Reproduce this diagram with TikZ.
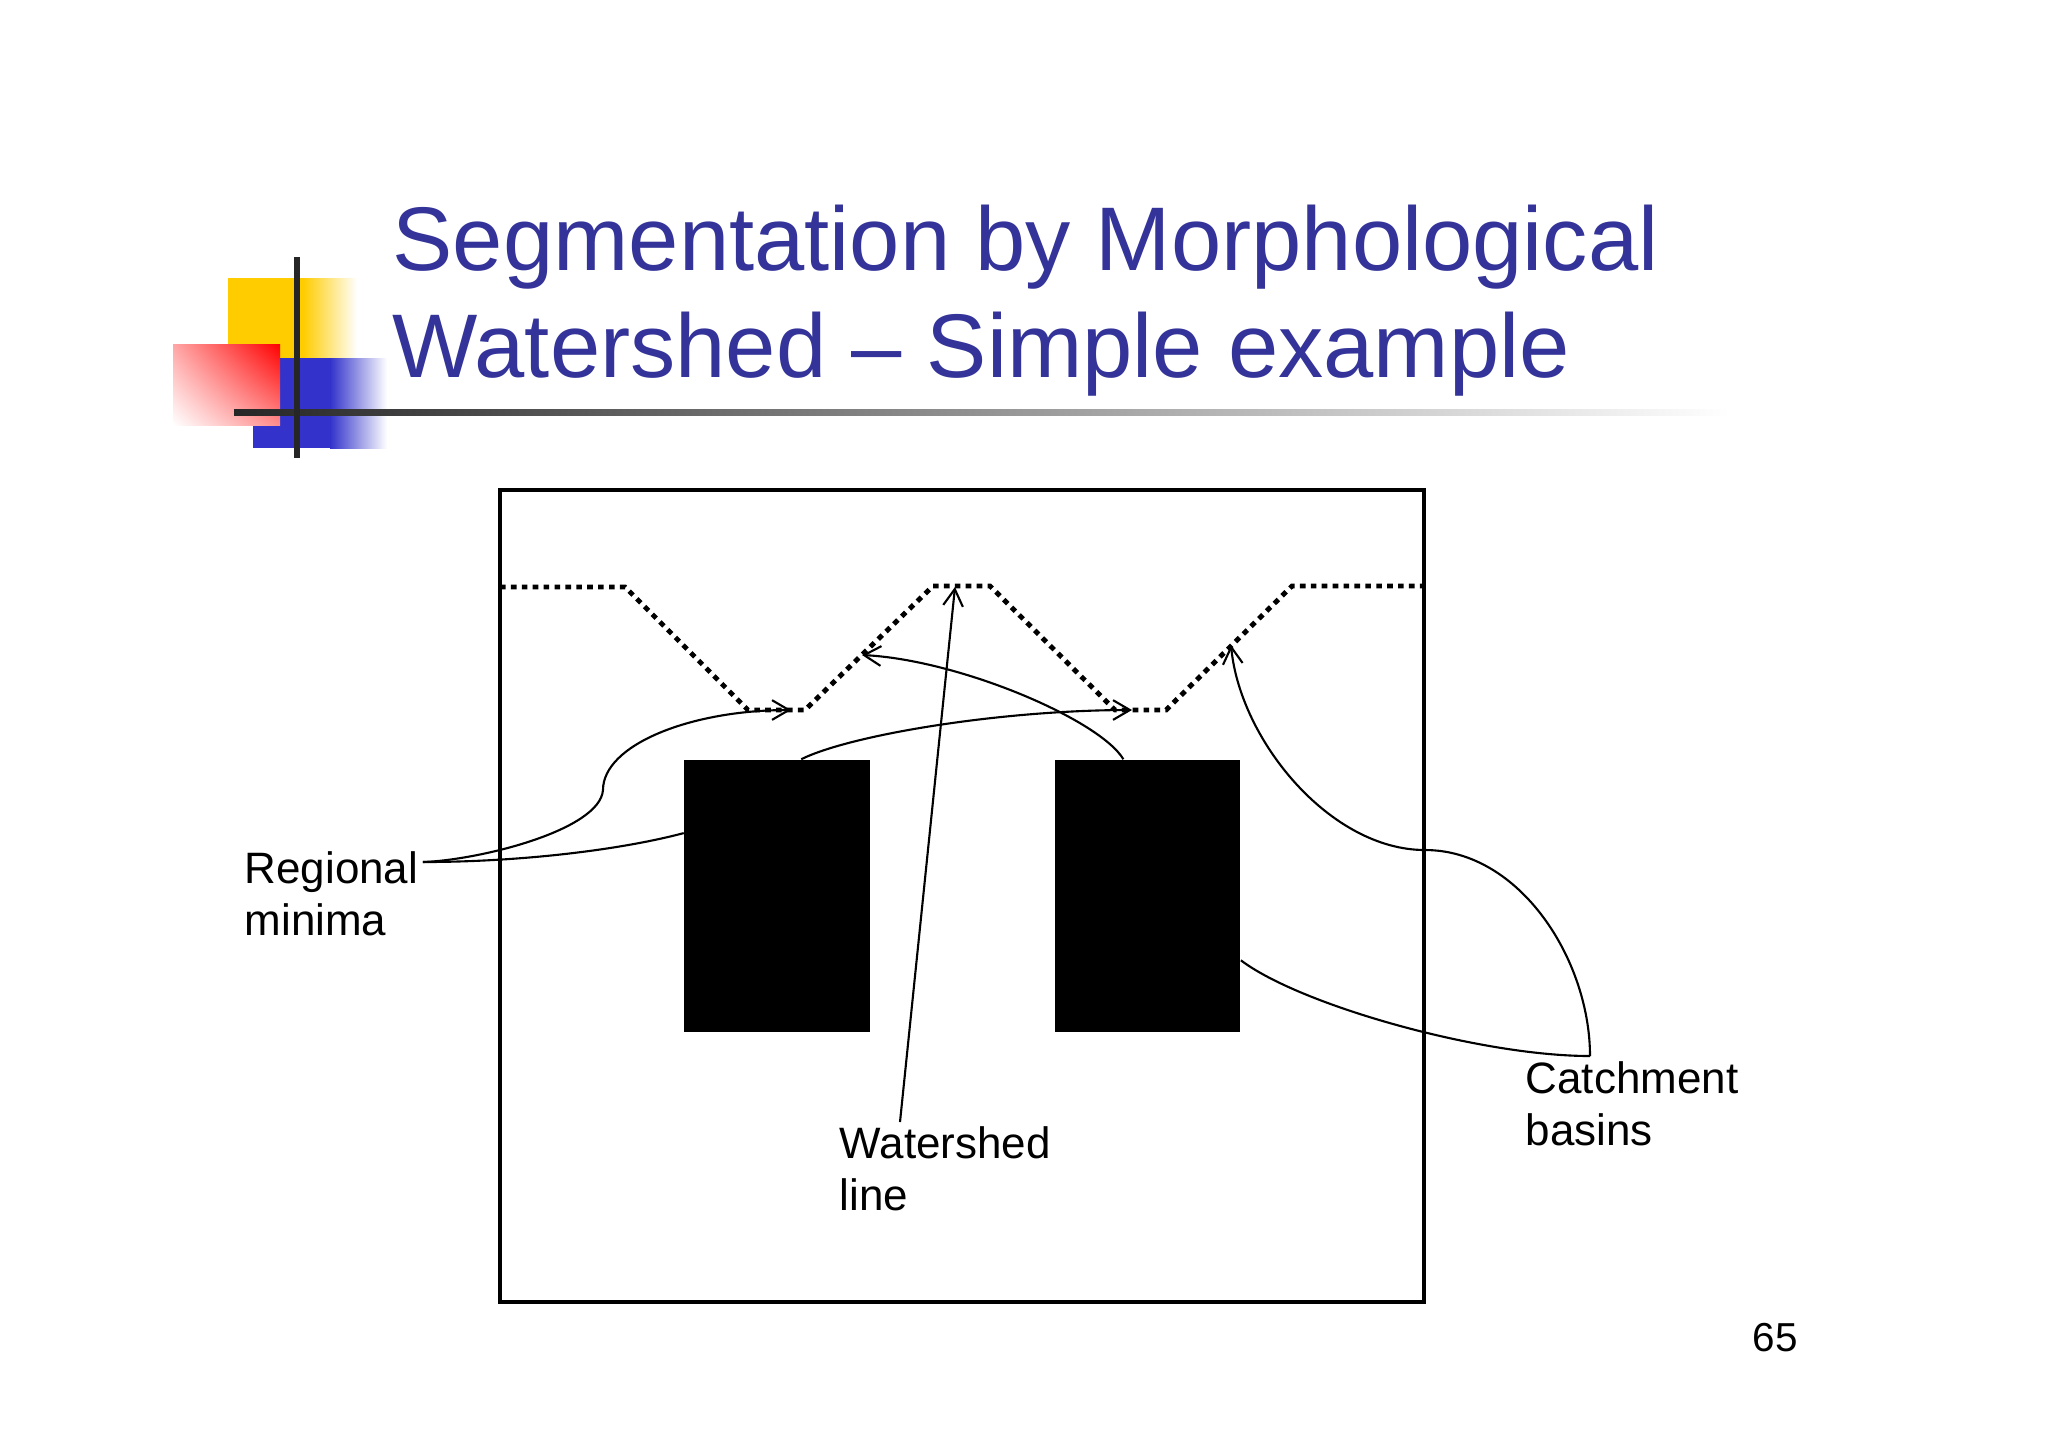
\documentclass[tikz,border=0pt]{standalone}
\usepackage{fontspec}
\setmainfont{Liberation Sans}
\usetikzlibrary{arrows.meta, positioning, calc, shadings}

\definecolor{titleblue}{RGB}{51,51,153}
\definecolor{logoyellow}{RGB}{255,204,0}
\definecolor{logoblue}{RGB}{51,51,204}
\definecolor{logored}{RGB}{255,0,0}

\tikzset{
  label text/.style={font=\fontsize{12.5}{14.8}\selectfont, align=left,
                     inner sep=0pt, anchor=north west},
  minbox/.style={fill=black, draw=none, minimum width=1.85cm,
                 minimum height=2.72cm, inner sep=0pt},
  link/.style={line width=0.6pt},
  pointer/.style={link, -{Straight Barb[length=4.8pt, width=5.6pt]}},
  water/.style={line width=1.4pt, dash pattern=on 1.6pt off 1.5pt},
}

\begin{document}
\begin{tikzpicture}[x=0.01cm, y=-0.01cm]
  \useasboundingbox (0,0) rectangle (2048,1447);

  % Logo
  \fill[logoyellow] (228,278) rectangle (304,358);
  \shade[left color=logoyellow, right color=white] (303,278) rectangle (357,358);
  \fill[logoblue] (253,358) rectangle (331,448);
  \shade[left color=logoblue, right color=white] (330,358) rectangle (387,448);
  \shade[upper left=logored!35, upper right=logored, lower left=white,
         lower right=logored!45] (173,344) rectangle (280,425);
  \shade[left color=black!85, middle color=black!50, right color=white]
    (234,409) rectangle (1730,415);
  \fill[black!85] (294,257) rectangle (300,458);

  % Title
  \node[titleblue, font=\fontsize{25.7}{30.4}\selectfont, align=left,
        inner sep=0pt, anchor=north west] (title) at (392,204)
    {Segmentation by Morphological\\Watershed – Simple example};

  % Frame and water profile
  \draw[line width=0.9pt] (500,490) rectangle (1424,1302);
  \draw[water] (500,587) -- (625,587) -- (748,710) -- (805,710) -- (933,586)
    -- (990,586) -- (1115,710) -- (1166,710) -- (1292,586) -- (1424,586);
  \coordinate (valleyL) at (791,710);
  \coordinate (valleyR) at (1132,710);
  \coordinate (crest) at (955,587);
  \coordinate (slopeL) at (862,655);
  \coordinate (slopeR) at (1231,645);

  % Minima
  \node[minbox] (minL) at (777,896) {};
  \node[minbox, right=1.84cm of minL] (minR) {};

  % Labels
  \node[label text] (regional) at (244,851) {Regional\\minima};
  \node[label text] (watershed) at (839,1126) {Watershed\\line};
  \node[label text] (catchment) at (1525,1061) {Catchment\\basins};
  \node[font=\fontsize{11.5}{13}\selectfont, inner sep=0pt] (page) at (1775,1338) {65};

  % Connectors
  \coordinate (regO) at ($(regional.north east)+(4,11)$);
  \draw[pointer] (regO) .. controls (480,860) and (600,830) .. (603,790)
                        .. controls (603,745) and (690,710) .. (valleyL);
  \draw[link] (regO) .. controls (520,862) and (620,850)
    .. ($(minL.north west)!0.27!(minL.south west)$);
  \draw[pointer] ($(minL.north west)!0.63!(minL.north east)$)
    .. controls (850,735) and (1000,710) .. (valleyR);
  \draw[pointer] ($(minR.north west)!0.37!(minR.north east)$)
    .. controls (1100,720) and (960,660) .. (slopeL);
  \draw[pointer] ($(watershed.north west)+(61,-4)$) -- (crest);

  \coordinate (catchO) at ($(catchment.north west)+(65,-5)$);
  \draw[pointer] (catchO) .. controls (1590,960) and (1520,850) .. (1425,850)
                          .. controls (1330,850) and (1240,740) .. (slopeR);
  \draw[link] ($(minR.north east)!0.735!(minR.south east)$)
    .. controls (1300,1005) and (1480,1056) .. (catchO);
\end{tikzpicture}
\end{document}
